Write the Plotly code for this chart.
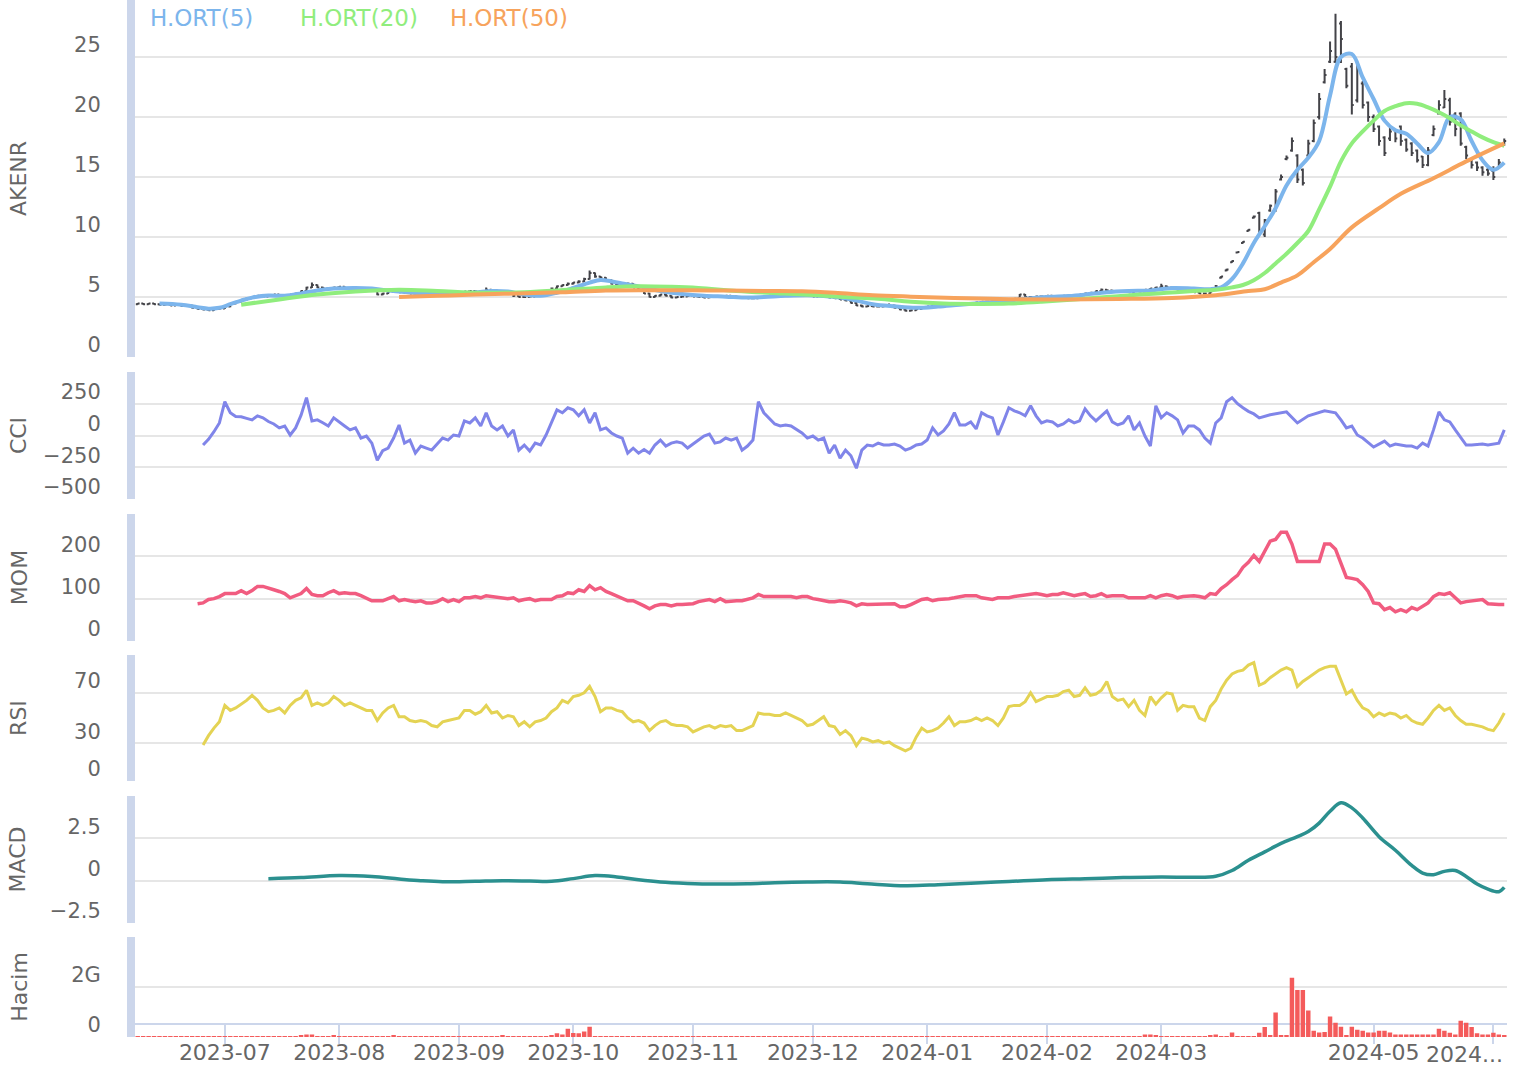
import pandas as pd
import plotly.graph_objects as go

FONT = "DejaVu Sans"
GREY = "#666666"

# ---------------- categories (trading days) ----------------
holidays = ["2023-06-28", "2023-06-29", "2023-06-30", "2023-08-30", "2024-01-01",
            "2024-04-10", "2024-04-11", "2024-04-12", "2024-04-23", "2024-05-01"]
dates = [d.strftime("%Y-%m-%d") for d in pd.bdate_range("2023-06-06", "2024-06-05")
         if d.strftime("%Y-%m-%d") not in holidays]

tick_dates = ["2023-07-03", "2023-08-01", "2023-09-01", "2023-10-02", "2023-11-01", "2023-12-01",
              "2024-01-02", "2024-02-01", "2024-03-01", "2024-05-02", "2024-06-03"]
tick_text = ["2023-07", "2023-08", "2023-09", "2023-10", "2023-11", "2023-12",
             "2024-01", "2024-02", "2024-03", "2024-05", ""]
last_tick_label = "2024..."

# ---------------- price (OHLC) ----------------
close = [4.45,4.40,4.45,4.40,4.35,4.40,4.30,4.35,4.25,4.30,
         4.10,4.00,3.95,3.90,4.00,4.05,4.20,4.45,4.60,4.75,
         4.90,5.00,5.10,5.05,5.15,5.20,5.10,5.05,5.20,5.30,
         5.50,5.80,6.00,5.80,5.70,5.75,5.80,5.85,5.70,5.75,
         5.60,5.65,5.60,5.50,5.20,5.30,5.45,5.50,5.40,5.35,
         5.30,5.25,5.20,5.10,5.15,5.20,5.25,5.30,5.40,5.35,
         5.45,5.50,5.45,5.50,5.60,5.55,5.50,5.45,5.30,5.10,
         5.00,5.00,5.05,5.15,5.30,5.50,5.70,5.90,6.00,6.10,
         6.20,6.30,6.50,7.00,6.70,6.60,6.40,6.10,6.00,6.05,
         6.10,5.80,5.60,5.30,5.00,5.10,5.20,5.10,4.95,5.00,
         5.05,5.10,5.05,5.00,4.95,5.00,5.05,5.00,5.10,5.05,
         5.00,4.95,4.90,4.90,5.00,5.05,5.10,5.15,5.10,5.20,
         5.15,5.20,5.10,5.15,5.05,5.10,5.00,4.95,4.90,4.80,
         4.70,4.50,4.30,4.20,4.25,4.20,4.20,4.25,4.30,4.10,
         3.95,3.85,3.90,4.00,4.10,4.20,4.30,4.40,4.35,4.45,
         4.40,4.45,4.50,4.50,4.55,4.60,4.60,4.65,4.70,4.75,
         4.80,4.85,5.20,5.00,5.00,5.05,5.05,5.10,5.00,5.05,
         5.10,5.10,5.15,5.20,5.30,5.35,5.50,5.60,5.55,5.50,
         5.45,5.50,5.40,5.50,5.45,5.60,5.70,5.80,5.90,5.80,
         5.70,5.60,5.50,5.45,5.40,5.30,5.30,5.45,5.90,6.70,
         7.30,8.00,8.75,9.60,10.60,11.70,10.50,11.40,12.60,13.80,
         15.00,16.60,18.00,14.80,14.50,17.80,19.50,21.50,23.50,25.50,
         25.00,26.50,22.60,21.00,24.00,21.00,20.00,19.00,18.00,17.00,
         18.80,18.20,18.00,17.30,17.00,16.40,16.00,17.20,19.00,21.00,
         21.50,19.60,19.00,17.80,16.80,16.00,15.80,15.40,15.30,15.00,
         16.20,18.00]
open_ = [4.40,4.45,4.40,4.45,4.40,4.35,4.40,4.30,4.35,4.25,
         4.30,4.10,4.00,3.95,3.90,4.00,4.05,4.20,4.45,4.60,
         4.75,4.90,5.00,5.10,5.05,5.15,5.20,5.10,5.05,5.20,
         5.30,5.50,5.80,6.00,5.80,5.70,5.75,5.80,5.85,5.70,
         5.75,5.60,5.65,5.60,5.50,5.20,5.30,5.45,5.50,5.40,
         5.35,5.30,5.25,5.20,5.10,5.15,5.20,5.25,5.30,5.40,
         5.35,5.45,5.50,5.45,5.50,5.60,5.55,5.50,5.45,5.30,
         5.10,5.00,5.00,5.05,5.15,5.30,5.50,5.70,5.90,6.00,
         6.10,6.20,6.30,6.50,7.00,6.70,6.60,6.40,6.10,6.00,
         6.05,6.10,5.80,5.60,5.30,5.00,5.10,5.20,5.10,4.95,
         5.00,5.05,5.10,5.05,5.00,4.95,5.00,5.05,5.00,5.10,
         5.05,5.00,4.95,4.90,4.90,5.00,5.05,5.10,5.15,5.10,
         5.20,5.15,5.20,5.10,5.15,5.05,5.10,5.00,4.95,4.90,
         4.80,4.70,4.50,4.30,4.20,4.25,4.20,4.20,4.25,4.30,
         4.10,3.95,3.85,3.90,4.00,4.10,4.20,4.30,4.40,4.35,
         4.45,4.40,4.45,4.50,4.50,4.55,4.60,4.60,4.65,4.70,
         4.75,4.80,4.90,5.20,5.00,5.00,5.05,5.05,5.10,5.00,
         5.05,5.10,5.10,5.15,5.20,5.30,5.35,5.50,5.60,5.55,
         5.50,5.45,5.50,5.40,5.50,5.45,5.60,5.70,5.80,5.90,
         5.80,5.70,5.60,5.50,5.45,5.40,5.30,5.30,5.60,6.60,
         7.20,7.90,8.70,9.50,10.50,11.60,12.00,10.20,12.20,12.30,
         14.80,16.50,17.20,16.80,15.60,16.80,18.00,20.00,22.90,24.60,
         24.60,27.80,24.00,24.20,21.40,22.80,21.20,20.00,19.20,18.30,
         18.20,18.90,19.20,18.10,17.80,17.20,16.70,16.00,18.50,20.30,
         20.80,21.40,20.20,20.30,17.50,16.40,16.20,15.80,15.60,15.50,
         15.80,17.70]
high = [4.50,4.50,4.50,4.50,4.45,4.45,4.45,4.40,4.40,4.35,
        4.35,4.15,4.05,4.00,4.05,4.10,4.25,4.50,4.65,4.80,
        4.95,5.05,5.15,5.15,5.20,5.25,5.25,5.15,5.25,5.35,
        5.55,5.85,6.20,6.05,5.85,5.80,5.85,5.90,5.90,5.80,
        5.80,5.70,5.70,5.65,5.55,5.35,5.50,5.55,5.55,5.45,
        5.40,5.35,5.30,5.25,5.20,5.25,5.30,5.35,5.45,5.45,
        5.50,5.55,5.55,5.55,5.80,5.65,5.60,5.55,5.50,5.35,
        5.15,5.05,5.10,5.20,5.35,5.55,5.80,5.95,6.05,6.20,
        6.25,6.40,6.60,7.20,7.05,6.75,6.65,6.45,6.15,6.10,
        6.20,6.15,5.85,5.65,5.35,5.15,5.25,5.25,5.15,5.05,
        5.10,5.15,5.15,5.10,5.05,5.05,5.10,5.10,5.15,5.15,
        5.10,5.05,5.00,4.95,5.05,5.10,5.15,5.20,5.20,5.25,
        5.25,5.25,5.25,5.20,5.20,5.15,5.15,5.05,5.00,4.95,
        4.85,4.75,4.60,4.35,4.30,4.30,4.30,4.30,4.45,4.35,
        4.15,4.00,3.95,4.05,4.15,4.25,4.35,4.45,4.45,4.50,
        4.50,4.50,4.55,4.55,4.60,4.65,4.65,4.70,4.75,4.80,
        4.85,4.90,5.25,5.25,5.05,5.10,5.10,5.15,5.15,5.10,
        5.15,5.15,5.20,5.25,5.35,5.40,5.55,5.70,5.65,5.60,
        5.55,5.55,5.55,5.55,5.55,5.65,5.75,5.85,6.10,5.95,
        5.85,5.75,5.65,5.55,5.50,5.45,5.35,5.55,6.00,6.75,
        7.35,8.05,8.80,9.65,10.65,11.80,12.10,11.50,12.70,14.00,
        15.20,16.80,18.30,16.90,15.70,18.10,19.80,22.00,24.00,26.30,
        28.60,28.00,24.10,24.50,24.40,23.00,21.30,20.20,19.30,18.40,
        19.30,19.00,19.30,18.20,17.90,17.30,16.75,17.50,19.30,21.40,
        22.25,21.60,20.40,20.40,17.60,16.50,16.30,15.90,15.75,15.90,
        16.50,18.20]
low = [4.35,4.35,4.35,4.35,4.30,4.30,4.25,4.25,4.20,4.20,
       4.05,3.95,3.90,3.85,3.85,3.95,4.00,4.15,4.40,4.55,
       4.70,4.85,4.95,5.00,5.00,5.10,5.05,5.00,5.00,5.15,
       5.25,5.45,5.75,5.75,5.65,5.65,5.70,5.75,5.65,5.65,
       5.55,5.55,5.55,5.45,5.15,5.15,5.25,5.40,5.35,5.30,
       5.25,5.20,5.15,5.05,5.05,5.10,5.15,5.20,5.25,5.30,
       5.30,5.40,5.40,5.40,5.45,5.50,5.45,5.40,5.25,5.00,
       4.95,4.95,4.95,5.00,5.10,5.25,5.45,5.65,5.85,5.95,
       6.05,6.15,6.25,6.45,6.60,6.55,6.35,6.05,5.95,5.95,
       6.00,5.75,5.55,5.25,4.95,4.95,5.05,5.05,4.90,4.90,
       4.95,5.00,5.00,4.95,4.90,4.90,4.95,4.95,4.95,5.00,
       4.95,4.90,4.85,4.85,4.85,4.95,5.00,5.05,5.05,5.05,
       5.10,5.10,5.05,5.05,5.00,5.00,4.95,4.90,4.85,4.75,
       4.65,4.45,4.25,4.15,4.15,4.15,4.15,4.15,4.20,4.05,
       3.90,3.80,3.80,3.85,3.95,4.05,4.15,4.25,4.30,4.30,
       4.35,4.35,4.40,4.45,4.45,4.50,4.55,4.55,4.60,4.65,
       4.70,4.75,4.85,4.95,4.95,4.95,5.00,5.00,4.95,4.95,
       5.00,5.05,5.05,5.10,5.15,5.25,5.30,5.45,5.50,5.45,
       5.40,5.40,5.35,5.35,5.40,5.40,5.55,5.65,5.75,5.75,
       5.65,5.55,5.45,5.40,5.35,5.25,5.25,5.25,5.55,6.55,
       7.15,7.85,8.65,9.45,10.45,11.55,10.30,10.00,12.10,12.10,
       14.70,16.40,17.10,14.50,14.30,16.70,17.90,19.80,22.80,24.50,
       24.50,24.50,22.40,20.20,21.20,20.70,19.60,18.75,17.60,16.75,
       18.00,17.90,17.60,17.10,16.75,16.20,15.75,15.90,18.40,20.20,
       20.75,19.30,18.40,17.60,16.50,15.70,15.50,15.10,15.10,14.75,
       15.70,17.60]

# ---------------- moving averages (read at selected trading days) ----------------
ma5_idx = [4,8,11,13,15,17,19,21,24,27,30,33,36,40,43,46,50,54,58,62,65,68,71,74,77,80,83,85,87,90,
           93,96,100,104,108,112,115,119,123,126,129,132,135,139,143,147,151,155,159,163,167,171,174,178,
           182,186,190,194,197,199,201,203,205,207,209,211,213,215,217,219,221,223,225,227,229,231,233,235,
           237,239,241,243,245,247,249,251]
ma5_val = [4.45,4.35,4.15,4.03,4.10,4.40,4.70,4.95,5.12,5.10,5.30,5.55,5.70,5.75,5.70,5.55,5.38,5.28,5.28,
           5.38,5.50,5.45,5.20,5.10,5.35,5.75,6.20,6.42,6.30,6.05,5.80,5.50,5.25,5.10,5.03,4.95,5.00,5.10,
           5.15,5.08,4.95,4.70,4.40,4.22,4.10,4.20,4.36,4.50,4.65,4.85,5.00,5.08,5.20,5.40,5.50,5.55,5.75,
           5.70,5.65,5.80,6.50,7.80,9.50,10.90,12.40,14.30,15.60,16.60,18.00,21.80,25.00,25.25,23.30,21.50,
           19.70,18.90,18.60,17.80,17.00,17.90,20.00,19.80,18.00,16.40,15.60,16.20]
ma20_idx = [19,26,33,40,48,55,63,71,79,86,92,98,103,110,118,125,130,136,142,148,155,160,166,172,178,184,
            189,194,198,201,203,205,207,209,211,213,215,217,219,221,223,225,227,229,231,233,235,237,239,
            241,243,245,247,249,251]
ma20_val = [4.36,4.80,5.20,5.45,5.60,5.50,5.35,5.40,5.60,5.80,5.90,5.85,5.75,5.50,5.30,5.15,5.00,4.86,
            4.60,4.45,4.42,4.45,4.60,4.80,5.00,5.20,5.35,5.50,5.60,5.80,6.00,6.40,7.00,7.80,8.60,9.50,
            10.50,12.30,14.20,16.30,17.80,18.80,19.70,20.50,20.90,21.15,21.10,20.80,20.40,19.90,19.30,
            18.80,18.30,17.90,17.60]
ma50_idx = [48,55,62,70,78,86,95,105,115,122,128,135,142,150,160,170,180,190,198,204,207,210,213,216,
            219,223,228,232,238,244,251]
ma50_val = [5.00,5.10,5.20,5.30,5.40,5.55,5.57,5.55,5.50,5.47,5.35,5.15,5.03,4.92,4.82,4.80,4.84,4.92,
            5.15,5.50,5.65,6.20,6.80,7.90,9.00,10.80,12.40,13.60,14.90,16.30,17.80]

# ---------------- indicators ----------------
cci_start = 12
cci = [-75,-30,30,99,266,179,150,147,135,123,
       155,139,110,91,60,75,4,60,160,298,
       115,123,100,75,139,110,75,44,60,-20,
       -4,-60,-195,-120,-99,-20,83,-60,-36,-139,
       -83,-99,-115,-67,-20,-36,4,-4,115,99,
       139,75,179,75,44,75,-4,44,-115,-75,
       -123,-60,-75,4,99,202,179,218,202,155,
       202,99,179,44,60,20,-4,-20,-139,-100,
       -139,-110,-139,-75,-36,-83,-60,-50,-60,-99,
       -67,-36,-4,12,-60,-50,-20,-36,-20,-115,
       -83,-36,266,179,139,91,75,83,75,44,
       20,-20,-4,-36,-20,-139,-75,-178,-115,-160,
       -258,-115,-75,-83,-60,-75,-75,-67,-83,-115,
       -99,-75,-67,-36,60,4,36,91,180,83,
       83,107,52,180,155,139,4,107,218,194,
       179,155,234,155,99,115,107,75,91,123,
       99,115,210,155,115,155,194,107,83,99,
       155,44,99,-4,-83,234,139,179,155,123,
       20,75,75,44,-20,-60,99,139,266,298,
       250,218,190,170,139,None,163,None,None,186,
       None,99,None,155,None,None,194,None,179,123,
       60,75,4,-20,None,-91,None,-44,-83,-67,
       None,-83,-83,-99,-60,-83,44,186,123,107,
       44,-20,-75,-75,None,-67,-75,None,-60,44]

mom_start = 11
mom = [88,90,98,100,105,112,112,112,119,112,
       119,129,129,124,121,117,112,102,107,112,
       124,110,107,107,114,119,112,114,112,112,
       107,102,95,95,95,100,105,95,98,95,
       93,95,90,90,93,100,93,98,93,102,
       102,105,102,107,105,105,102,100,102,95,
       98,100,95,98,98,98,105,107,114,112,
       121,117,131,121,126,117,112,107,102,95,
       95,90,83,76,83,86,86,83,86,86,
       88,88,93,95,98,93,100,93,95,95,
       95,98,102,110,105,105,105,107,105,105,
       102,105,105,100,98,95,93,93,95,93,
       90,83,88,86,86,86,86,86,88,81,
       81,86,93,98,100,95,98,98,100,102,
       105,107,107,107,102,100,98,102,102,102,
       105,107,110,112,112,110,107,110,110,114,
       110,107,110,112,105,107,112,105,107,107,
       107,102,102,102,102,107,102,107,110,107,
       102,105,107,107,105,102,112,110,124,133,
       145,155,174,186,202,188,212,236,240,257,
       257,229,188,188,188,188,188,229,229,217,
       181,150,148,145,133,117,90,88,74,79,
       69,74,69,79,74,83,90,105,112,110,
       114,102,90,93,95,95,98,88,86,86,
       86]

rsi_start = 12
rsi = [28.5,36,42,47,60,56,58,61,64,68,
       64,58,55,56,58,54,60,64,66,72,
       60,62,60,62,67,64,60,62,60,58,
       56,56,48,54,58,60,51,51,48,47,
       48,47,44,43,47,48,49,50,56,56,
       53,55,60,54,55,50,52,51,44,47,
       43,47,48,50,55,58,64,62,67,68,
       70,75,67,55,58,58,56,55,50,47,
       48,46,40,44,47,48,45,44,44,43,
       39,41,43,44,42,44,43,44,40,40,
       42,44,54,53,53,52,52,54,52,50,
       48,44,45,48,51,44,43,37,40,36,
       28,34,33,31,32,30,31,28,26,24,
       26,35,42,39,40,42,46,51,44,47,
       47,48,50,48,50,48,44,50,59,60,
       60,63,70,63,65,67,67,68,71,72,
       67,68,74,68,69,72,79,67,64,65,
       59,64,56,52,67,61,66,70,69,56,
       60,59,59,50,48,59,64,73,80,85,
       87,88,92,94,76,78,82,85,88,90,
       88,75,79,82,85,88,90,91,91,80,
       69,72,64,58,56,51,54,52,54,53,
       50,52,48,46,45,50,56,60,56,58,
       52,48,45,45,44,43,41,40,46,54]

macd_idx = [24,30,37,43,48,52,56,62,67,72,76,80,84,88,92,96,101,106,112,117,123,129,134,141,147,153,
            160,167,174,181,188,194,198,201,204,207,210,213,215,217,219,221,223,225,228,231,234,236,
            238,240,242,244,246,248,250,251]
macd_val = [0.12,0.18,0.30,0.24,0.10,0.00,-0.06,-0.03,0.00,-0.02,-0.04,0.12,0.30,0.22,0.05,-0.08,
            -0.16,-0.20,-0.18,-0.12,-0.08,-0.08,-0.18,-0.30,-0.24,-0.15,-0.05,0.06,0.12,0.18,0.22,0.20,
            0.26,0.60,1.20,1.70,2.20,2.60,2.90,3.40,4.10,4.60,4.30,3.70,2.60,1.80,0.90,0.45,0.35,0.55,
            0.60,0.25,-0.20,-0.50,-0.65,-0.40]

# ---------------- volume (billions) ----------------
volume_g = [0.01,0.04,0.02,0.01,0.01,0.01,0.01,0.04,0.01,0.01,
            0.01,0.01,0.01,0.04,0.03,0.01,0.02,0.04,0.03,0.04,
            0.04,0.03,0.04,0.03,0.04,0.01,0.02,0.04,0.03,0.04,
            0.08,0.10,0.10,0.04,0.04,0.03,0.08,0.02,0.04,0.03,
            0.04,0.03,0.04,0.03,0.04,0.04,0.03,0.08,0.03,0.04,
            0.03,0.04,0.04,0.03,0.01,0.04,0.03,0.04,0.01,0.04,
            0.03,0.04,0.04,0.03,0.04,0.04,0.03,0.08,0.01,0.01,
            0.01,0.01,0.01,0.01,0.04,0.03,0.05,0.15,0.10,0.33,
            0.16,0.15,0.22,0.41,0.04,0.03,0.04,0.04,0.03,0.01,
            0.04,0.03,0.01,0.04,0.03,0.01,0.04,0.03,0.01,0.01,
            0.01,0.01,0.01,0.01,0.01,0.01,0.01,0.01,0.01,0.01,
            0.01,0.01,0.01,0.01,0.01,0.01,0.01,0.01,0.01,0.01,
            0.04,0.01,0.01,0.01,0.01,0.01,0.01,0.04,0.01,0.01,
            0.01,0.01,0.04,0.01,0.01,0.01,0.01,0.01,0.01,0.01,
            0.01,0.01,0.01,0.01,0.01,0.01,0.01,0.01,0.01,0.01,
            0.01,0.01,0.01,0.01,0.01,0.01,0.01,0.01,0.01,0.01,
            0.01,0.04,0.04,0.03,0.01,0.01,0.01,0.01,0.01,0.01,
            0.04,0.04,0.03,0.01,0.04,0.04,0.04,0.04,0.03,0.04,
            0.04,0.03,0.04,0.01,0.01,0.10,0.10,0.08,0.04,0.03,
            0.04,0.03,0.01,0.01,0.01,0.01,0.03,0.05,0.10,0.01,
            0.01,0.18,0.04,0.03,0.01,0.01,0.17,0.40,0.08,0.98,
            0.08,0.08,2.37,1.88,1.88,1.06,0.25,0.18,0.20,0.82,
            0.57,0.41,0.08,0.41,0.29,0.25,0.18,0.18,0.25,0.25,
            0.18,0.10,0.10,0.10,0.10,0.10,0.10,0.10,0.10,0.33,
            0.25,0.17,0.10,0.65,0.57,0.40,0.15,0.10,0.10,0.17,
            0.10,0.05]

assert len(dates) == 252, len(dates)
for arr in (close, open_, high, low, volume_g):
    assert len(arr) == 252, len(arr)
assert cci_start + len(cci) == 252 and mom_start + len(mom) == 252 and rsi_start + len(rsi) == 252

volume = [v * 1e9 for v in volume_g]

# ---------------- figure ----------------
fig = go.Figure()
ohlc_line = dict(color="#434348", width=2)
fig.add_trace(go.Ohlc(x=dates, open=open_, high=high, low=low, close=close,
                      increasing=dict(line=ohlc_line), decreasing=dict(line=ohlc_line),
                      tickwidth=0.35, name="AKENR", hoverinfo="skip", xaxis="x", yaxis="y"))

for idx, val, color, name in [(ma5_idx, ma5_val, "#7cb5ec", "H.ORT(5)"),
                              (ma20_idx, ma20_val, "#90ed7d", "H.ORT(20)"),
                              (ma50_idx, ma50_val, "#f7a35c", "H.ORT(50)")]:
    fig.add_trace(go.Scatter(x=[dates[i] for i in idx], y=val, mode="lines", name=name,
                             line=dict(color=color, width=4, shape="spline", smoothing=1.0),
                             xaxis="x", yaxis="y"))

fig.add_trace(go.Scatter(x=dates[cci_start:], y=cci, mode="lines", name="CCI", connectgaps=True,
                         line=dict(color="#8085e9", width=3), xaxis="x2", yaxis="y2"))
fig.add_trace(go.Scatter(x=dates[mom_start:], y=mom, mode="lines", name="MOM",
                         line=dict(color="#f15c80", width=3.5), xaxis="x3", yaxis="y3"))
fig.add_trace(go.Scatter(x=dates[rsi_start:], y=rsi, mode="lines", name="RSI",
                         line=dict(color="#e4d354", width=3), xaxis="x4", yaxis="y4"))
fig.add_trace(go.Scatter(x=[dates[i] for i in macd_idx], y=macd_val, mode="lines", name="MACD",
                         line=dict(color="#2b908f", width=3.5, shape="spline", smoothing=1.0),
                         xaxis="x5", yaxis="y5"))
fig.add_trace(go.Bar(x=dates, y=volume, name="Hacim", marker=dict(color="#f45b5b", line=dict(width=0)),
                     xaxis="x6", yaxis="y6"))

H_PLOT = 1037.0
def dom(top_px, bottom_px):
    return [1 - bottom_px / H_PLOT, 1 - top_px / H_PLOT]

xbase = dict(type="category", categoryorder="array", categoryarray=dates, range=[-0.5, 251.5],
             showgrid=False, zeroline=False, showticklabels=False, ticks="", showline=False,
             fixedrange=True, automargin=False, rangeslider=dict(visible=False))

ybase = dict(showgrid=True, gridcolor="#e6e6e6", gridwidth=2, zeroline=False, showline=True,
             linecolor="#ccd6eb", linewidth=8, ticks="", ticklabelshift=-12, ticklabelstandoff=22,
             tickfont=dict(family=FONT, size=21, color=GREY), fixedrange=True, automargin=False)

panels = [
    ("", "AKENR", dom(0, 357), [0, 29.75], [0, 5, 10, 15, 20, 25], ["0", "5", "10", "15", "20", "25"], 44),
    ("2", "CCI", dom(372, 499), [-500, 500], [-500, -250, 0, 250, 500], ["\u2212500", "\u2212250", "0", "250", ""], 13),
    ("3", "MOM", dom(514, 641), [0, 300], [0, 100, 200, 300], ["0", "100", "200", ""], 30),
    ("4", "RSI", dom(655, 781), [0, 100], [0, 30, 70, 100], ["0", "30", "70", ""], 44),
    ("5", "MACD", dom(796, 923), [-2.5, 5], [-2.5, 0, 2.5, 5], ["\u22122.5", "0", "2.5", ""], 21),
    ("6", "Hacim", dom(937, 1037), [0, 4e9], [0, 2e9, 4e9], ["0", "2G", ""], 40),
]

layout_axes = {}
for suf, title, domain, rng, tv, tt, standoff in panels:
    y = dict(ybase)
    y.update(domain=domain, range=rng, tickvals=tv, ticktext=tt, anchor="x" + suf,
             title=dict(text=title, standoff=standoff, font=dict(family=FONT, size=22, color=GREY)))
    layout_axes["yaxis" + suf] = y
    x = dict(xbase)
    x.update(anchor="y" + suf)
    layout_axes["xaxis" + suf] = x

# bottom date axis
layout_axes["xaxis6"].update(anchor="free", position=13 / H_PLOT, showline=True, linecolor="#ccd6eb",
                             linewidth=2, ticks="outside", ticklen=19, tickwidth=2, tickcolor="#ccd6eb",
                             showticklabels=True, tickvals=tick_dates, ticktext=tick_text,
                             ticklabelstandoff=-10,
                             tickfont=dict(family=FONT, size=22, color=GREY), layer="below traces")

fig.update_layout(width=1515, height=1070, margin=dict(l=135, r=8, t=0, b=33, pad=0, autoexpand=False),
                  paper_bgcolor="white", plot_bgcolor="white", showlegend=False, bargap=0.18,
                  font=dict(family=FONT, size=22, color=GREY), **layout_axes)

# legend texts (coloured like their series) and the clipped last date label
for name, color, xpx in [("H.ORT(5)", "#7cb5ec", 148), ("H.ORT(20)", "#90ed7d", 298), ("H.ORT(50)", "#f7a35c", 448)]:
    fig.add_annotation(text=name, xref="paper", yref="paper", x=(xpx - 135) / 1372, y=1 - 18 / H_PLOT,
                       xanchor="left", yanchor="middle", showarrow=False,
                       font=dict(family=FONT, size=23, color=color))
fig.add_annotation(text=last_tick_label, xref="paper", yref="paper", x=(1505 - 135) / 1372,
                   y=-17 / H_PLOT, xanchor="right", yanchor="middle", showarrow=False,
                   font=dict(family=FONT, size=22, color=GREY))

fig.write_html("out.html", config={"displayModeBar": False},
               post_script="document.body.style.margin='0px';")
